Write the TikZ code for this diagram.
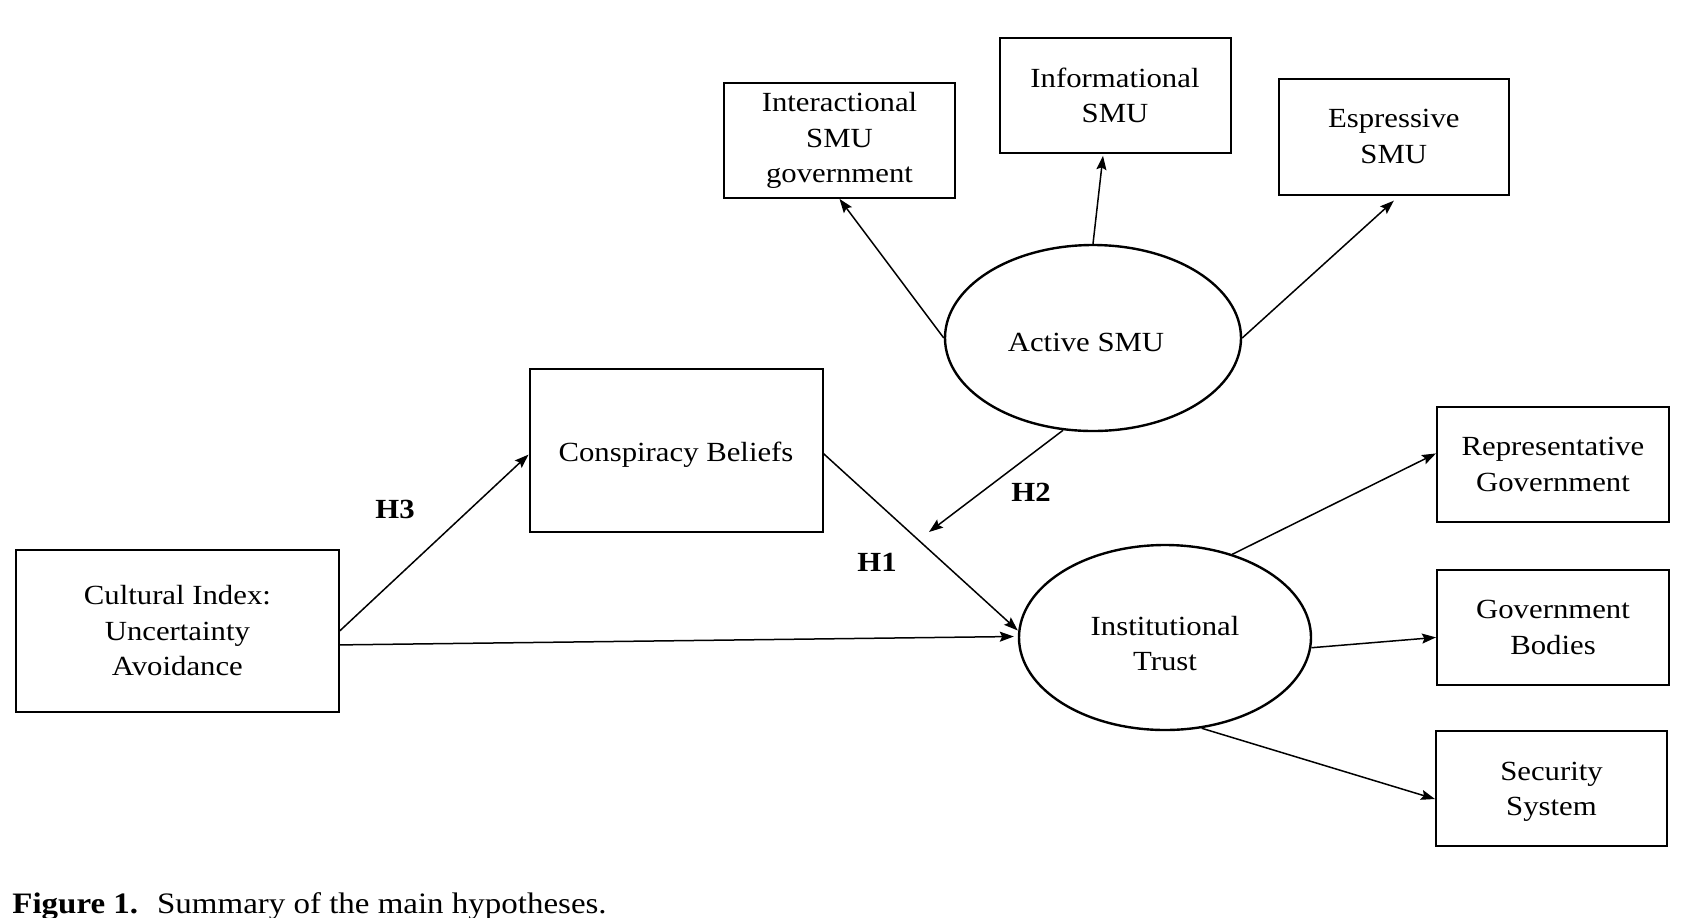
\documentclass[tikz,border=0pt]{standalone}
\usepackage{fontspec}
\setmainfont{Liberation Serif}[FakeStretch=1.11]
\usetikzlibrary{shapes.geometric,arrows.meta,calc}
\newcommand\nudgeone[3]{\raisebox{#2}[\height][\depth]{\kern#1\relax #3\kern-#1\relax}}
\newcommand\nudgetwo[2]{\raisebox{#1}[\height][\depth]{\begin{tabular}{@{}c@{}}#2\end{tabular}}}
\begin{document}
\begin{tikzpicture}[x=0.5pt,y=-0.5pt,
  every node/.style={font=\fontsize{13.85}{17.75}\selectfont, align=center, inner sep=0pt},
  boxnode/.style={draw, line width=1pt, rectangle},
  ellnode/.style={draw, line width=1.2pt, ellipse},
  conn/.style={line width=0.75pt, -{Stealth[length=7pt,width=5pt,inset=1.2pt]}},
  hlabel/.style={font=\fontsize{13.85}{17.75}\selectfont\bfseries}]
\useasboundingbox (0,0) rectangle (1687,917);

\node[boxnode, minimum width=115.5pt, minimum height=57.5pt] (inter) at (839.5,140.4) {Interactional\\SMU\\government};
\node[boxnode, minimum width=115.5pt, minimum height=57.8pt] (info) at (1115,95.5) {Informational\\SMU};
\node[boxnode, minimum width=115.25pt, minimum height=58pt] (espr) at (1393.8,136.7) {Espressive\\SMU};
\node[ellnode, minimum width=148pt, minimum height=93pt] (active) at (1093,338) {\nudgeone{-3.5pt}{-2.15pt}{Active SMU}};
\node[boxnode, minimum width=146.5pt, minimum height=81.35pt] (consp) at (676,450.6) {\nudgeone{0pt}{-2.15pt}{Conspiracy Beliefs}};
\node[boxnode, minimum width=161.35pt, minimum height=81.15pt] (cult) at (177.4,630.9) {Cultural Index:\\Uncertainty\\Avoidance};
\node[ellnode, minimum width=146pt, minimum height=92.5pt] (inst) at (1165,637.5) {\nudgetwo{-4.15pt}{Institutional\\Trust}};
\node[boxnode, minimum width=116pt, minimum height=57.65pt] (repr) at (1553,464.4) {Representative\\Government};
\node[boxnode, minimum width=116pt, minimum height=57.65pt] (gov) at (1553,627.4) {Government\\Bodies};
\node[boxnode, minimum width=115.5pt, minimum height=57.5pt] (sec) at (1551.5,788.5) {\nudgetwo{-1.2pt}{Security\\System}};

\node[hlabel] (h3) at (395,509) {H3};
\node[hlabel] (h2) at (1031,492) {H2};
\node[hlabel] (h1) at (877,562) {H1};

\coordinate (h2end) at (929,532);

\draw[conn] (active.west) -- (inter.south);
\draw[conn] (active.north) -- ($(info.south)+(-12,1.5)$);
\draw[conn] (active.east) -- ($(espr.south)+(0,5)$);
\draw[conn] (active.252) -- (h2end);
\draw[conn] (cult.east) -- ($(consp.west)+(0,4)$);
\draw[conn] ($(cult.east)+(0,14)$) -- ($(inst.west)+(-4,-1)$);
\draw[conn] ($(consp.east)+(0,3)$) -- ($(inst.west)+(0,-7)$);
\draw[conn] (inst.51) -- ($(repr.west)+(0,-11)$);
\draw[conn] (inst.-4) -- ($(gov.west)+(0,10)$);
\draw[conn] (inst.-68) -- ($(sec.west)+(0,10.5)$);

\node[anchor=base west, font=\fontsize{14.85}{17}\selectfont] (caption) at (12,913) {\textbf{Figure 1.}\hspace{9.5pt}Summary of the main hypotheses.};
\end{tikzpicture}
\end{document}
